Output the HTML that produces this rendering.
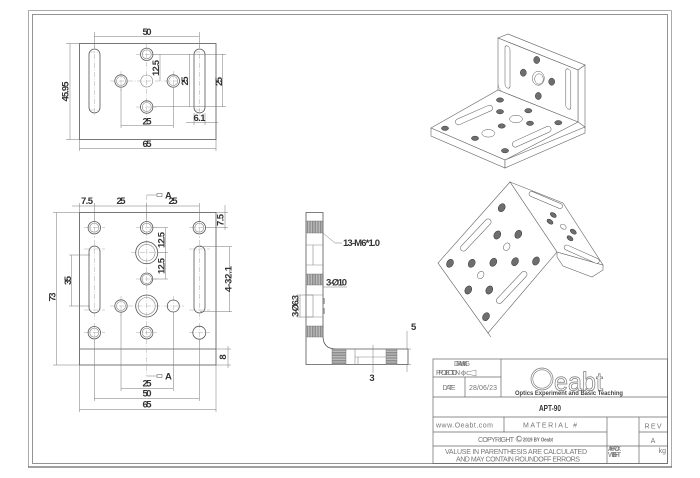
<!DOCTYPE html>
<html><head><meta charset="utf-8">
<style>
html,body{margin:0;padding:0;background:#fff;}
svg{display:block}
.o{fill:none;stroke:#555;stroke-width:0.8}
.t{fill:none;stroke:#888;stroke-width:0.6}
.c{fill:none;stroke:#aaa;stroke-width:0.5;stroke-dasharray:5 1.5 1 1.5}
.dm{fill:none;stroke:#777;stroke-width:0.5}
.d{font-family:"Liberation Sans Narrow","Liberation Sans",sans-serif;font-size:9.5px;font-weight:bold;fill:#333}
.tb{font-family:"Liberation Sans",sans-serif;font-size:7px;fill:#777}
.iso{fill:#fff;stroke:#666;stroke-width:0.6}
.dk{fill:#6e6e6e;stroke:#333;stroke-width:0.5}
.wh{fill:#fff;stroke:#555;stroke-width:0.5}
</style></head><body>
<svg width="700" height="478" viewBox="0 0 700 478" xmlns="http://www.w3.org/2000/svg">
<defs>
<pattern id="hv" width="1.6" height="2" patternUnits="userSpaceOnUse"><rect width="1.6" height="2" fill="#c8c8c8"/><line x1="0.4" y1="0" x2="0.4" y2="2" stroke="#666" stroke-width="0.6"/></pattern>
<pattern id="hh" width="2" height="1.6" patternUnits="userSpaceOnUse"><rect width="2" height="1.6" fill="#c8c8c8"/><line x1="0" y1="0.4" x2="2" y2="0.4" stroke="#666" stroke-width="0.6"/></pattern>
</defs>

<!-- FRAME -->
<line x1="28.5" y1="10.5" x2="671.5" y2="10.5" stroke="#aaa"/>
<line x1="28.5" y1="10.5" x2="28.5" y2="467" stroke="#aaa"/>
<line x1="671.5" y1="10.5" x2="671.5" y2="467" stroke="#aaa"/>
<line x1="28" y1="467" x2="672" y2="467" stroke="#666" stroke-width="1.2"/>
<rect x="32.5" y="14.5" width="635" height="449" fill="none" stroke="#888" stroke-width="0.9"/>

<!-- ===== TOP VIEW ===== -->
<rect x="79.5" y="43.5" width="136.5" height="96" class="o"/>
<rect x="89" y="49" width="11" height="64" rx="5.5" class="o"/>
<rect x="194" y="49" width="11" height="64" rx="5.5" class="o"/>
<g class="c">
<line x1="94.3" y1="45" x2="94.3" y2="117"/><line x1="199.3" y1="45" x2="199.3" y2="117"/>
<line x1="90" y1="52" x2="99" y2="52"/><line x1="90" y1="110" x2="99" y2="110"/>
<line x1="195" y1="52" x2="204" y2="52"/><line x1="195" y1="110" x2="204" y2="110"/>
<line x1="136" y1="54.3" x2="157" y2="54.3"/><line x1="146.7" y1="44" x2="146.7" y2="117"/>
<line x1="110" y1="81" x2="184" y2="81"/><line x1="121" y1="71" x2="121" y2="91"/>
<line x1="173.3" y1="71" x2="173.3" y2="91"/><line x1="136" y1="107" x2="157" y2="107"/>
</g>
<g>
<circle cx="146.7" cy="54.3" r="6.2" class="o"/><circle cx="146.7" cy="54.3" r="4.5" class="t"/>
<circle cx="121" cy="81" r="6.2" class="o"/><circle cx="121" cy="81" r="4.5" class="t"/>
<circle cx="173.3" cy="81" r="6.2" class="o"/><circle cx="173.3" cy="81" r="4.5" class="t"/>
<circle cx="146.7" cy="107" r="6.2" class="o"/><circle cx="146.7" cy="107" r="4.5" class="t"/>
<circle cx="146.7" cy="81" r="6" class="t"/>
</g>
<g class="dm">
<line x1="94.3" y1="36.7" x2="199.3" y2="36.7"/><line x1="94.3" y1="32" x2="94.3" y2="48"/><line x1="199.3" y1="32" x2="199.3" y2="48"/>
<line x1="70" y1="43.5" x2="70" y2="139.5"/><line x1="66" y1="43.5" x2="79" y2="43.5"/><line x1="66" y1="139.5" x2="79" y2="139.5"/>
<line x1="79.5" y1="148.3" x2="216" y2="148.3"/><line x1="79.5" y1="140" x2="79.5" y2="151"/><line x1="216" y1="140" x2="216" y2="151"/>
<line x1="121" y1="88" x2="121" y2="128"/><line x1="173.3" y1="88" x2="173.3" y2="128"/><line x1="121" y1="125.7" x2="173.3" y2="125.7"/>
<line x1="160" y1="54.3" x2="160" y2="81"/><line x1="153" y1="54.3" x2="226" y2="54.3"/>
<line x1="153" y1="106.7" x2="226" y2="106.7"/>
<line x1="189.3" y1="54.3" x2="189.3" y2="106.7"/><line x1="222.7" y1="54.3" x2="222.7" y2="106.7"/>
<line x1="186" y1="122.7" x2="218" y2="122.7"/><line x1="194" y1="113" x2="194" y2="125"/><line x1="205" y1="113" x2="205" y2="125"/>
</g>
<text class="d" x="147" y="35" text-anchor="middle" textLength="9">50</text>
<text class="d" transform="translate(68.5,91.5) rotate(-90)" text-anchor="middle" textLength="20">45.95</text>
<text class="d" x="147" y="147" text-anchor="middle" textLength="9">65</text>
<text class="d" x="147" y="124.3" text-anchor="middle" textLength="9">25</text>
<text class="d" transform="translate(159,68) rotate(-90)" text-anchor="middle" textLength="16">12.5</text>
<text class="d" transform="translate(187.8,81) rotate(-90)" text-anchor="middle" textLength="9">25</text>
<text class="d" transform="translate(222,81.5) rotate(-90)" text-anchor="middle" textLength="9">25</text>
<text class="d" x="199.5" y="121" text-anchor="middle" textLength="12">6.1</text>

<!-- ===== FRONT VIEW ===== -->
<rect x="79.5" y="212.5" width="136.5" height="152.5" class="o"/>
<line x1="79.5" y1="349" x2="216" y2="349" class="o"/>
<rect x="89" y="246" width="11" height="67" rx="5.5" class="o"/>
<rect x="194" y="246" width="11" height="67" rx="5.5" class="o"/>
<g class="c">
<line x1="146.7" y1="195" x2="146.7" y2="376"/>
<line x1="94.3" y1="240" x2="94.3" y2="320"/><line x1="199.3" y1="240" x2="199.3" y2="320"/>
<line x1="84" y1="227.7" x2="105" y2="227.7"/><line x1="136" y1="227.7" x2="157" y2="227.7"/><line x1="189" y1="227.7" x2="210" y2="227.7"/>
<line x1="94.3" y1="218" x2="94.3" y2="238"/><line x1="199.3" y1="218" x2="199.3" y2="238"/>
<line x1="131" y1="252.7" x2="162" y2="252.7"/><line x1="136" y1="279" x2="157" y2="279"/>
<line x1="110" y1="306" x2="184" y2="306"/><line x1="121" y1="296" x2="121" y2="316"/><line x1="173.3" y1="296" x2="173.3" y2="316"/>
<line x1="84" y1="332.7" x2="105" y2="332.7"/><line x1="136" y1="332.7" x2="157" y2="332.7"/><line x1="189" y1="332.7" x2="210" y2="332.7"/>
<line x1="94.3" y1="323" x2="94.3" y2="343"/><line x1="199.3" y1="323" x2="199.3" y2="343"/>
<line x1="84" y1="249" x2="105" y2="249"/><line x1="84" y1="310" x2="105" y2="310"/>
<line x1="189" y1="249" x2="210" y2="249"/><line x1="189" y1="310" x2="210" y2="310"/>
</g>
<g>
<circle cx="94.3" cy="227.7" r="6.2" class="o"/><circle cx="94.3" cy="227.7" r="4.5" class="t"/>
<circle cx="146.7" cy="227.7" r="6.2" class="o"/><circle cx="146.7" cy="227.7" r="4.5" class="t"/>
<circle cx="199.3" cy="227.7" r="6.2" class="o"/><circle cx="199.3" cy="227.7" r="4.5" class="t"/>
<circle cx="146.7" cy="252.7" r="11" class="o"/><circle cx="146.7" cy="252.7" r="8.3" class="t"/>
<circle cx="146.7" cy="279" r="6" class="o"/><circle cx="146.7" cy="279" r="4.7" class="t"/>
<circle cx="121" cy="306" r="6.2" class="o"/><circle cx="121" cy="306" r="4.5" class="t"/>
<circle cx="146.7" cy="306" r="11" class="o"/><circle cx="146.7" cy="306" r="8.5" class="t"/>
<circle cx="173.3" cy="306" r="6" class="o"/>
<circle cx="94.3" cy="332.7" r="6.2" class="o"/><circle cx="94.3" cy="332.7" r="4.5" class="t"/>
<circle cx="146.7" cy="332.7" r="6.2" class="o"/><circle cx="146.7" cy="332.7" r="4.5" class="t"/>
<circle cx="199.3" cy="332.7" r="6.5" class="o"/>
</g>
<g class="dm">
<line x1="72" y1="206" x2="199.3" y2="206"/>
<line x1="79.5" y1="203" x2="79.5" y2="212"/><line x1="94.3" y1="203" x2="94.3" y2="221"/><line x1="146.7" y1="203" x2="146.7" y2="221"/><line x1="199.3" y1="203" x2="199.3" y2="221"/>
<line x1="225" y1="205" x2="225" y2="230"/><line x1="216" y1="212.5" x2="228" y2="212.5"/><line x1="205" y1="227.7" x2="228" y2="227.7"/>
<line x1="165.7" y1="227.7" x2="165.7" y2="279"/><line x1="152" y1="227.7" x2="168" y2="227.7"/><line x1="158" y1="252.7" x2="168" y2="252.7"/><line x1="152" y1="279" x2="168" y2="279"/>
<line x1="229.3" y1="246.7" x2="229.3" y2="311.7"/><line x1="200" y1="246.7" x2="232" y2="246.7"/><line x1="200" y1="311.7" x2="232" y2="311.7"/>
<line x1="71.7" y1="255" x2="71.7" y2="306"/><line x1="69" y1="255" x2="90" y2="255"/><line x1="69" y1="306" x2="90" y2="306"/>
<line x1="56.7" y1="212.5" x2="56.7" y2="365"/><line x1="53" y1="212.5" x2="79" y2="212.5"/><line x1="53" y1="365" x2="79" y2="365"/>
<line x1="228" y1="346" x2="228" y2="368"/><line x1="216" y1="349" x2="231" y2="349"/><line x1="216" y1="365" x2="231" y2="365"/>
<line x1="121" y1="312" x2="121" y2="391"/><line x1="173.3" y1="312" x2="173.3" y2="391"/>
<line x1="94.3" y1="339" x2="94.3" y2="401"/><line x1="199.3" y1="339" x2="199.3" y2="401"/>
<line x1="79.5" y1="365" x2="79.5" y2="412"/><line x1="216" y1="365" x2="216" y2="412"/>
<line x1="121" y1="388.3" x2="173.3" y2="388.3"/><line x1="94.3" y1="398.3" x2="199.3" y2="398.3"/><line x1="79.5" y1="409.3" x2="216" y2="409.3"/>
<line x1="146.7" y1="195" x2="157" y2="195"/><line x1="146.7" y1="376" x2="157" y2="376"/>
</g>
<rect x="157" y="193.5" width="5" height="3" fill="none" stroke="#555" stroke-width="0.5"/>
<rect x="157" y="374.5" width="5" height="3" fill="none" stroke="#555" stroke-width="0.5"/>
<text class="d" x="165" y="198.5" font-size="8">A</text>
<text class="d" x="165" y="379.5" font-size="8">A</text>
<text class="d" x="87" y="204" text-anchor="middle" textLength="12">7.5</text>
<text class="d" x="121" y="204" text-anchor="middle" textLength="9">25</text>
<text class="d" x="173" y="204" text-anchor="middle" textLength="9">25</text>
<text class="d" transform="translate(223.5,220) rotate(-90)" text-anchor="middle" textLength="12">7.5</text>
<text class="d" transform="translate(164.5,240) rotate(-90)" text-anchor="middle" textLength="16">12.5</text>
<text class="d" transform="translate(164.5,266) rotate(-90)" text-anchor="middle" textLength="16">12.5</text>
<text class="d" transform="translate(231.5,279) rotate(-90)" text-anchor="middle" textLength="26">4-32.1</text>
<text class="d" transform="translate(71,280.5) rotate(-90)" text-anchor="middle" textLength="9">35</text>
<text class="d" transform="translate(55.5,297) rotate(-90)" text-anchor="middle" textLength="9">73</text>
<text class="d" transform="translate(226,357) rotate(-90)" text-anchor="middle">8</text>
<text class="d" x="147" y="386.5" text-anchor="middle" textLength="9">25</text>
<text class="d" x="147" y="396.5" text-anchor="middle" textLength="9">50</text>
<text class="d" x="147" y="407.5" text-anchor="middle" textLength="9">65</text>

<!-- ===== SIDE VIEW ===== -->
<path d="M306,212.5 H323 V336 Q323,349 336,349 H408 V364.5 H306 Z" class="o"/>
<rect x="306" y="221" width="17" height="12" fill="url(#hv)" stroke="#666" stroke-width="0.4"/>
<rect x="306" y="274" width="17" height="11" fill="url(#hv)" stroke="#666" stroke-width="0.4"/>
<rect x="306" y="326" width="17" height="11" fill="url(#hv)" stroke="#666" stroke-width="0.4"/>
<rect x="332" y="349" width="14" height="15.5" fill="url(#hh)" stroke="#666" stroke-width="0.4"/>
<rect x="386" y="349" width="11" height="15.5" fill="url(#hh)" stroke="#666" stroke-width="0.4"/>
<path d="M306,245 H323 M306,265 H323 M313,245 V265 M306,295 H323 M306,317 H323 M313,295 V317 M355,349 V364.5 M355,357 H386 M358,357 V364.5" class="t"/>
<path d="M324,298 V304 M324,308 V314" stroke="#999" stroke-width="1.5"/>
<g class="dm">
<path d="M407,331 V349 M407,364.5 V372 M398,349 H411 M398,364.5 H411"/>
<path d="M373,345 V373"/>
<path d="M300,295 V317 M297,295 H313 M297,317 H313"/>
<path d="M323,287 H347"/>
<path d="M323,233 L335,243 H342"/>
</g>
<text class="d" x="411" y="330">5</text>
<text class="d" x="372" y="381" text-anchor="middle">3</text>
<text class="d" transform="translate(298.5,306) rotate(-90)" text-anchor="middle" textLength="22" font-size="8.5">3-Ø6.3</text>
<text class="d" x="326" y="285.5" textLength="21" font-size="8.5">3-Ø10</text>
<text class="d" x="343" y="246" textLength="37" font-size="8">13-M6*1.0</text>

<!-- ===== TOP ISO ===== -->
<g>
<polygon class="iso" points="498,38 508,34 585,65 578,70"/>
<polygon class="iso" points="578,70 585,65 585,127 578,122"/>
<polygon class="iso" points="498,90 498,38 578,70 578,122"/>
<polygon class="iso" points="431,128 498,90 578,122 505,160"/>
<polygon class="iso" points="431,128 505,160 505,168 431,136"/>
<polygon class="iso" points="505,160 585,127 585,133 505,168"/>
<path d="M498,84 Q499,92 506,93" fill="none" stroke="#888" stroke-width="0.5"/>
<rect x="-2.5" y="-21" width="5" height="42" rx="2.5" class="wh" transform="translate(507.5,67) skewY(21.8)"/>
<rect x="-2.5" y="-20" width="5" height="40" rx="2.5" class="wh" transform="translate(568.3,89) skewY(21.8)"/>
<ellipse cx="536.7" cy="60" rx="3" ry="3.6" class="dk"/>
<ellipse cx="523.3" cy="72.7" rx="3" ry="3.6" class="dk"/>
<ellipse cx="551.7" cy="81.7" rx="3" ry="3.6" class="dk"/>
<ellipse cx="538.3" cy="96" rx="3" ry="3.6" class="dk"/>
<ellipse cx="538.3" cy="78.3" rx="6" ry="7" class="wh"/>
<ellipse cx="539" cy="79" rx="4.3" ry="5.2" class="wh"/>
<ellipse cx="500" cy="100" rx="3.6" ry="2.2" class="dk"/>
<ellipse cx="500" cy="111.7" rx="3.6" ry="2.2" class="dk"/>
<ellipse cx="528.3" cy="110.7" rx="3.6" ry="2.2" class="dk"/>
<ellipse cx="501.7" cy="126" rx="3.6" ry="2.2" class="dk"/>
<ellipse cx="530" cy="123.3" rx="3.6" ry="2.2" class="dk"/>
<ellipse cx="558.3" cy="122.7" rx="3.6" ry="2.2" class="dk"/>
<ellipse cx="445" cy="128.3" rx="3.6" ry="2.2" class="dk"/>
<ellipse cx="475" cy="138.3" rx="3.6" ry="2.2" class="dk"/>
<ellipse cx="505" cy="150.7" rx="3.6" ry="2.2" class="dk"/>
<ellipse cx="516" cy="119" rx="6.5" ry="3.8" class="wh"/>
<ellipse cx="488.3" cy="133.3" rx="6.5" ry="3.8" class="wh"/>
<rect x="-20" y="-3" width="40" height="6" rx="3" class="wh" transform="translate(474,115) rotate(-23.7)"/>
<rect x="-21" y="-3" width="42" height="6" rx="3" class="wh" transform="translate(531.7,136.7) rotate(-24.5)"/>
</g>

<!-- ===== BOTTOM ISO ===== -->
<g>
<polygon class="iso" points="557,252 603,265 603,270 592,277 563,266 557,257"/>
<polygon class="iso" points="510,182 563,203 603,265 557,252"/>
<polygon class="iso" points="438,263 488,333 491,337 441,267"/>
<polygon class="iso" points="510,182 438,263 488,333 557,252"/>
<rect x="-21" y="-3" width="42" height="6" rx="3" class="wh" transform="translate(475.8,235) rotate(-46.7)"/>
<rect x="-21" y="-3" width="42" height="6" rx="3" class="wh" transform="translate(511.7,287.5) rotate(-46.7)"/>
<g class="dk">
<ellipse cx="501.7" cy="207.7" rx="3.2" ry="4.3" transform="rotate(30 501.7 207.7)"/>
<ellipse cx="497.3" cy="235" rx="3.2" ry="4.3" transform="rotate(30 497.3 235)"/>
<ellipse cx="518.3" cy="234.3" rx="3.2" ry="4.3" transform="rotate(30 518.3 234.3)"/>
<ellipse cx="450" cy="263.3" rx="3.2" ry="4.3" transform="rotate(30 450 263.3)"/>
<ellipse cx="471.7" cy="263.3" rx="3.2" ry="4.3" transform="rotate(30 471.7 263.3)"/>
<ellipse cx="493.3" cy="262.3" rx="3.2" ry="4.3" transform="rotate(30 493.3 262.3)"/>
<ellipse cx="515" cy="261.7" rx="3.2" ry="4.3" transform="rotate(30 515 261.7)"/>
<ellipse cx="536" cy="261" rx="3.2" ry="4.3" transform="rotate(30 536 261)"/>
<ellipse cx="468.3" cy="290" rx="3.2" ry="4.3" transform="rotate(30 468.3 290)"/>
<ellipse cx="489.3" cy="290" rx="3.2" ry="4.3" transform="rotate(30 489.3 290)"/>
<ellipse cx="486" cy="316.7" rx="3.2" ry="4.3" transform="rotate(30 486 316.7)"/>
<ellipse cx="553.3" cy="215" rx="3.4" ry="2" transform="rotate(35 553.3 215)"/>
<ellipse cx="550" cy="221.7" rx="3.4" ry="2" transform="rotate(35 550 221.7)"/>
<ellipse cx="573.3" cy="231.7" rx="3.4" ry="2" transform="rotate(35 573.3 231.7)"/>
<ellipse cx="570" cy="238.3" rx="3.4" ry="2" transform="rotate(35 570 238.3)"/>
</g>
<ellipse cx="506.7" cy="246.7" rx="3" ry="4" class="wh" transform="rotate(30 506.7 246.7)"/>
<ellipse cx="480.7" cy="275" rx="3" ry="4" class="wh" transform="rotate(30 480.7 275)"/>
<ellipse cx="563.3" cy="226.7" rx="3.2" ry="2.2" class="wh" transform="rotate(35 563.3 226.7)"/>
<rect x="-18" y="-2.5" width="36" height="5" rx="2.5" class="wh" transform="translate(545.8,200) rotate(23)"/>
<rect x="-19" y="-2.5" width="38" height="5" rx="2.5" class="wh" transform="translate(581.7,254.2) rotate(24)"/>
</g>

<!-- ===== TITLE BLOCK ===== -->
<g fill="none" stroke="#666" stroke-width="0.7">
<rect x="433" y="359" width="234.5" height="104.5"/>
<line x1="433" y1="377" x2="501" y2="377"/>
<line x1="465" y1="377" x2="465" y2="397"/>
<line x1="501" y1="359" x2="501" y2="397"/>
<line x1="433" y1="397" x2="667.5" y2="397"/>
<line x1="433" y1="417" x2="667.5" y2="417"/>
<line x1="504" y1="417" x2="504" y2="432"/>
<line x1="433" y1="432" x2="607" y2="432"/>
<line x1="639" y1="432" x2="667.5" y2="432"/>
<line x1="607" y1="417" x2="607" y2="463.5"/>
<line x1="639" y1="417" x2="639" y2="463.5"/>
<line x1="433" y1="446" x2="667.5" y2="446"/>
</g>
<text class="tb" x="462" y="366" text-anchor="middle" textLength="16" font-size="6.5">DRAWING</text>
<text class="tb" x="436" y="375" textLength="24" font-size="6.5">PROJECTION</text>
<g fill="none" stroke="#777" stroke-width="0.5">
<circle cx="463.5" cy="373" r="2"/><line x1="460.5" y1="373" x2="466.5" y2="373"/><line x1="463.5" y1="370" x2="463.5" y2="376"/>
<path d="M467,371.5 H470 L476,370 V376 L470,374.5 H467 Z"/>
</g>
<text class="tb" x="449" y="390" text-anchor="middle" textLength="13">DATE</text>
<text class="tb" x="483" y="390" text-anchor="middle" textLength="28">28/06/23</text>
<circle cx="542" cy="379" r="11" fill="none" stroke="#777" stroke-width="0.7"/>
<circle cx="542" cy="379" r="9.2" fill="none" stroke="#777" stroke-width="0.6"/>
<text x="554" y="390.5" font-family="'Liberation Sans', sans-serif" font-size="26" fill="#fff" stroke="#777" stroke-width="0.7" textLength="49" lengthAdjust="spacingAndGlyphs">eabt</text>
<text x="569" y="395" text-anchor="middle" font-family="'Liberation Sans Narrow', 'Liberation Sans', sans-serif" font-size="6" font-weight="bold" fill="#444" textLength="108" lengthAdjust="spacingAndGlyphs">Optics Experiment and Basic Teaching</text>
<text x="550" y="411" text-anchor="middle" font-family="'Liberation Sans Narrow', 'Liberation Sans', sans-serif" font-size="8.5" font-weight="bold" fill="#333" textLength="22" lengthAdjust="spacingAndGlyphs">APT-90</text>
<text class="tb" x="436" y="427.5" textLength="57">www.Oeabt.com</text>
<text class="tb" x="550" y="427.5" text-anchor="middle" textLength="54">MATERIAL #</text>
<text class="tb" x="653" y="428.5" text-anchor="middle" font-size="10" textLength="17">REV</text>
<text class="tb" x="478" y="442" textLength="36">COPYRIGHT</text>
<circle cx="519" cy="439" r="3" fill="none" stroke="#777" stroke-width="0.5"/>
<text class="tb" x="519" y="441" text-anchor="middle" font-size="4.5">C</text>
<text x="523" y="441.5" font-family="'Liberation Sans', sans-serif" font-size="5" font-weight="bold" fill="#666" textLength="30" lengthAdjust="spacingAndGlyphs">2019 BY Oeabt</text>
<text class="tb" x="653" y="443" text-anchor="middle" font-size="10">A</text>
<text class="tb" x="516" y="454" text-anchor="middle" textLength="142" font-size="6.5">VALUSE IN PARENTHESIS ARE CALCULATED</text>
<text class="tb" x="518" y="461.5" text-anchor="middle" textLength="124" font-size="6.5">AND MAY CONTAIN ROUNDOFF ERRORS</text>
<text class="tb" x="608" y="451" font-size="5" textLength="13">APPROX</text>
<text class="tb" x="608" y="457" font-size="5" textLength="13">WEIGHT</text>
<text class="tb" x="666" y="453" text-anchor="end" font-size="9">kg</text>
</svg>
</body></html>
